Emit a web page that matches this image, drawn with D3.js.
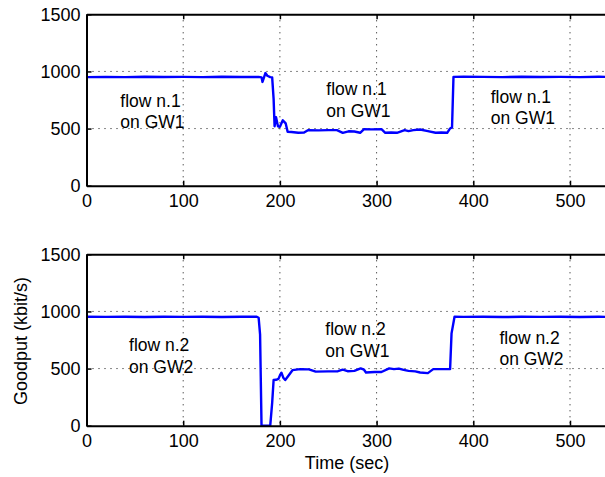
<!DOCTYPE html>
<html><head><meta charset="utf-8">
<script src="https://d3js.org/d3.v7.min.js"></script>
<style>body{margin:0;background:#fff}svg{display:block}text{font-family:"Liberation Sans",Arial,sans-serif;fill:#000}</style>
</head><body>
<script>
const xTicks = [0,100,200,300,400,500,600];
const xTickLabels = [0,100,200,300,400,500];
const yTicks = [0,500,1000,1500];
const flow1T = [0,20,40,60,80,100,120,140,160,178,181,182,184,185,187,190,192,193.5,194.5,196,198,200,203,206,208,212,219,225,229,240,250,259,265,271,277,283,287,295,305,309,315,321,329,333,338,345,353,361,367,373,376,378,379.5,390,410,430,450,470,490,510,530,550,570,600];
const flow1V = [950,952,950,953,951,952,950,953,951,952,948,908,960,986,962,950,948,760,520,600,520,515,572,545,472,470,463,465,486,484,486,486,463,476,474,463,495,493,495,463,465,463,486,478,486,492,478,463,466,463,501,510,952,955,952,950,953,951,952,950,953,951,952,950,953,952];
const flow2T = [0,20,40,60,80,100,120,140,160,176,178,179.5,181,190,192,193.5,196,198.5,200,201.6,203.5,205.5,209,213,221,230,237,250,260,265,270,277,283.5,287,289,298,305,313,318,323,328,333,340,345,353,358.6,368,376,377.5,380.6,390,410,430,450,470,490,510,530,550,570,600];
const flow2V = [954,952,953,951,954,952,953,951,954,954,945,800,0,0,200,400,402,410,440,464,420,400,440,486,495,493,473,475,477,490,477,480,502,490,466,470,470,502,495,500,488,480,475,466,460,495,495,495,808,954,952,954,951,953,952,954,951,953,952,954,953];
const notes1 = [{x:35, y:[690,505], lines:["flow n.1","on GW1"]},
                {x:248,y:[790,605], lines:["flow n.1","on GW1"]},
                {x:418,y:[725,540], lines:["flow n.1","on GW1"]}];
const notes2 = [{x:44, y:[650,465], lines:["flow n.2","on GW2"]},
                {x:247,y:[790,605], lines:["flow n.2","on GW1"]},
                {x:427,y:[715,530], lines:["flow n.2","on GW2"]}];

const W=605,H=477;
const svg=d3.select("body").append("svg").attr("width",W).attr("height",H);
const x=d3.scaleLinear().domain([0,600]).range([86.5,666.7]);
const FS=18, NS=17.5;

function panel(top,bottom,T,V,notes){
  const y=d3.scaleLinear().domain([0,1500]).range([bottom,top]);
  const g=svg.append("g");
  g.selectAll(".gx").data(xTicks.filter(d=>d>0)).join("line")
    .attr("x1",d=>x(d)).attr("x2",d=>x(d)).attr("y1",top).attr("y2",bottom)
    .attr("stroke","#111").attr("stroke-width",1).attr("stroke-dasharray","1,5");
  g.selectAll(".gy").data(yTicks.filter(d=>d>0&&d<1500)).join("line")
    .attr("x1",x(0)).attr("x2",W).attr("y1",d=>y(d)).attr("y2",d=>y(d))
    .attr("stroke","#111").attr("stroke-width",1).attr("stroke-dasharray","1,5");
  const pts=T.map((t,i)=>[t,V[i]]);
  g.append("path").datum(pts)
    .attr("d",d3.line().x(d=>x(d[0])).y(d=>y(d[1])))
    .attr("fill","none").attr("stroke","#0000ff").attr("stroke-width",2.4).attr("stroke-linejoin","round");
  const fmt=d=>xTickLabels.includes(d)?String(d):"";
  const gb=g.append("g").attr("transform",`translate(0,${bottom})`)
    .call(d3.axisBottom(x).tickValues(xTicks).tickFormat(fmt).tickSizeInner(-5).tickSizeOuter(0).tickPadding(9));
  const gt=g.append("g").attr("transform",`translate(0,${top})`)
    .call(d3.axisTop(x).tickValues(xTicks).tickSizeInner(-5).tickSizeOuter(0).tickFormat(""));
  const gl=g.append("g").attr("transform",`translate(${x(0)},0)`)
    .call(d3.axisLeft(y).tickValues(yTicks).tickFormat(d3.format("d")).tickSizeInner(-5).tickSizeOuter(0).tickPadding(6));
  [gb,gt,gl].forEach(a=>{
    a.select(".domain").attr("stroke","#000").attr("stroke-width",2);
    a.selectAll(".tick line").attr("stroke","#000").attr("stroke-width",1.5);
    a.selectAll("text").attr("font-size",FS).attr("font-family","Liberation Sans, Arial, sans-serif").attr("fill","#000");
  });
  gb.selectAll("text").attr("dy","0.71em");
  gb.selectAll(".tick").filter(d=>!xTickLabels.includes(d)).select("text").remove();
  notes.forEach(n=>{
    n.lines.forEach((s,i)=>{
      g.append("text").attr("x",x(n.x)).attr("y",y(n.y[i])).attr("font-size",NS).text(s);
    });
  });
}
panel(14.3,185.7,flow1T,flow1V,notes1);
panel(254.3,425.7,flow2T,flow2V,notes2);

svg.append("text").attr("x",347).attr("y",469).attr("text-anchor","middle").attr("font-size",FS).text("Time (sec)");
svg.append("text").attr("transform","translate(27,341) rotate(-90)").attr("text-anchor","middle").attr("font-size",FS).text("Goodput (kbit/s)");
</script>
</body></html>
